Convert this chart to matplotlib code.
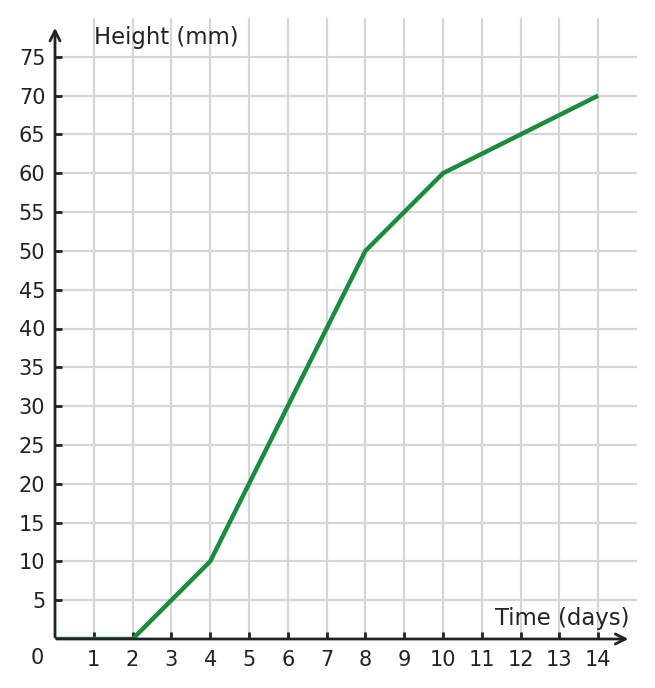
import matplotlib.pyplot as plt

days = [0, 2, 4, 8, 10, 14]
height_mm = [0, 0, 10, 50, 60, 70]
x_ticks = list(range(1, 15))
y_ticks = list(range(5, 80, 5))

fig = plt.figure(figsize=(6.55, 6.88), dpi=100)
ax = fig.add_axes([55 / 655, 49 / 688, 582 / 655, 621 / 688])
ax.set_xlim(0, 15)
ax.set_ylim(0, 80)

# grid: verticals up to the top, horizontals out to the right edge
ax.vlines(x_ticks, 0, 80, color='#d6d6d6', lw=1.6, zorder=0)
ax.hlines(y_ticks, 0, 15, color='#d6d6d6', lw=1.6, zorder=0)

for s in ax.spines.values():
    s.set_visible(False)

ax.plot(days, height_mm, color='#1b8c3e', lw=3.2, zorder=3, solid_capstyle='butt')

# axes with arrows
ax.annotate('', xy=(0, 79.1), xytext=(0, -0.1),
            arrowprops=dict(arrowstyle='->', color='#222222', lw=2, mutation_scale=18), zorder=4)
ax.annotate('', xy=(14.85, 0), xytext=(-0.03, 0),
            arrowprops=dict(arrowstyle='->', color='#222222', lw=2, mutation_scale=18), zorder=4)

ax.set_xticks(x_ticks)
ax.set_yticks(y_ticks)
ax.tick_params(axis='both', direction='in', length=5, width=2, color='#222222',
               labelsize=15, labelcolor='#222222', pad=8)
ax.tick_params(axis='y', pad=7)
ax.set_xticklabels([str(t) for t in x_ticks])
ax.set_yticklabels([str(t) for t in y_ticks])

ax.text(-0.46, -2.45, '0', ha='center', va='center', fontsize=15, color='#222222')
ax.text(1.0, 77.5, 'Height (mm)', ha='left', va='center', fontsize=16.4, color='#222222')
ax.text(14.8, 2.7, 'Time (days)', ha='right', va='center', fontsize=16.4, color='#222222')

fig.savefig('out.png', dpi=100)
